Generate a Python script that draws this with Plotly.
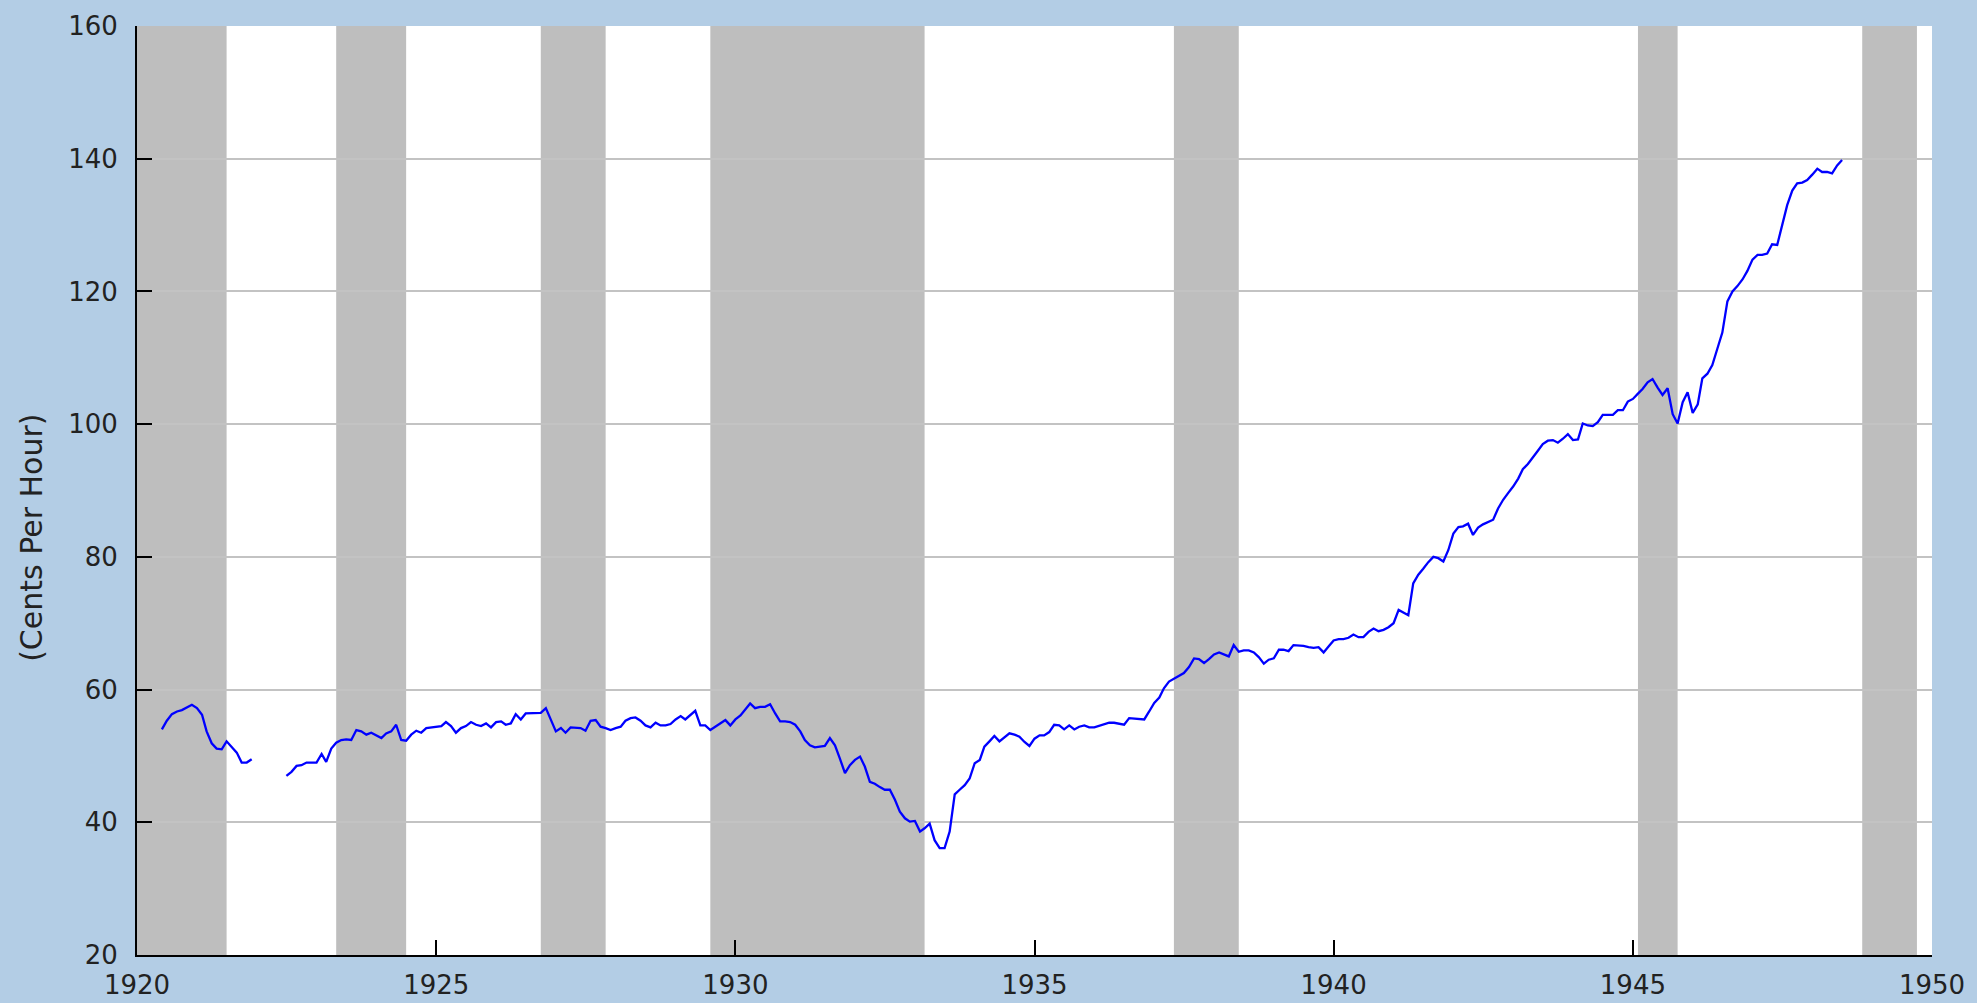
import pandas as pd
import plotly.graph_objects as go

# Average hourly earnings, production workers, manufacturing (cents per hour), monthly
start_1 = "1920-06-01"
wages_1920_1921 = [54.0, 55.3, 56.3, 56.7, 56.9, 57.3, 57.7, 57.2, 56.2, 53.7,
                   51.9, 51.1, 51.0, 52.2, 51.3, 50.5, 49.0, 49.0, 49.5]

start_2 = "1922-07-01"
wages_1922_1948 = [
    47.0, 47.6, 48.5, 48.6, 49.0, 49.0, 49.0, 50.3, 49.1, 51.1, 52.0, 52.4,
    52.5, 52.4, 53.9, 53.7, 53.2, 53.5, 53.1, 52.7, 53.4, 53.7, 54.7, 52.4,
    52.3, 53.2, 53.8, 53.5, 54.2, 54.3, 54.3, 54.5, 55.1, 54.5, 53.5, 54.2,
    54.5, 55.1, 54.7, 54.5, 54.9, 54.3, 55.1, 55.2, 54.7, 54.9, 56.3, 55.5,
    56.4, 56.4, 56.4, 56.5, 57.2, 55.5, 53.7, 54.2, 53.5, 54.3, 54.3, 54.2,
    53.8, 55.3, 55.4, 54.4, 54.2, 53.9, 54.2, 54.4, 55.3, 55.7, 55.8, 55.3,
    54.6, 54.3, 55.0, 54.6, 54.6, 54.8, 55.5, 56.0, 55.5, 56.1, 56.8, 54.6,
    54.6, 53.9, 54.4, 54.8, 55.4, 54.6, 55.5, 56.1, 57.0, 57.9, 57.2, 57.4,
    57.4, 57.8, 56.4, 55.2, 55.2, 55.1, 54.7, 53.7, 52.4, 51.6, 51.3, 51.4,
    51.5, 52.7, 51.6, 49.6, 47.4, 48.6, 49.4, 49.9, 48.4, 46.1, 45.8, 45.3,
    44.9, 44.9, 43.4, 41.6, 40.6, 40.1, 40.2, 38.6, 39.1, 39.8, 37.3, 36.1,
    36.1, 38.6, 44.2, 44.9, 45.6, 46.6, 48.9, 49.4, 51.4, 52.2, 53.0, 52.2,
    52.8, 53.4, 53.2, 52.9, 52.1, 51.5, 52.6, 53.1, 53.1, 53.6, 54.7, 54.6,
    54.0, 54.6, 54.0, 54.4, 54.6, 54.3, 54.3, 54.5, 54.8, 55.0, 55.0, 54.9,
    54.7, 55.7, 55.6, 55.5, 55.5, 56.7, 58.0, 58.8, 60.2, 61.2, 61.6, 62.0,
    62.5, 63.4, 64.7, 64.6, 64.0, 64.6, 65.3, 65.6, 65.3, 65.0, 66.7, 65.7,
    65.9, 65.9, 65.6, 64.9, 63.9, 64.5, 64.7, 66.0, 66.0, 65.8, 66.7, 66.7,
    66.6, 66.4, 66.3, 66.4, 65.6, 66.5, 67.4, 67.6, 67.6, 67.8, 68.3, 67.9,
    67.9, 68.7, 69.2, 68.8, 69.0, 69.4, 70.0, 72.0, 71.6, 71.2, 76.0, 77.3,
    78.2, 79.2, 80.0, 79.8, 79.3, 81.0, 83.5, 84.5, 84.6, 85.0, 83.3, 84.4,
    84.9, 85.2, 85.6, 87.3, 88.6, 89.6, 90.6, 91.8, 93.2, 94.0, 94.9, 96.0,
    97.0, 97.5, 97.6, 97.2, 97.8, 98.5, 97.6, 97.7, 100.1, 99.8, 99.7, 100.3,
    101.4, 101.4, 101.4, 102.1, 102.1, 103.4, 103.8, 104.6, 105.3, 106.3, 106.8, 105.5,
    104.4, 105.4, 101.5, 100.1, 103.3, 104.8, 101.7, 103.0, 106.9, 107.6, 108.9, 111.4,
    113.8, 118.5, 120.0, 120.8, 121.8, 123.1, 124.8, 125.5, 125.5, 125.7, 127.1, 127.0,
    130.0, 133.0, 135.2, 136.3, 136.4, 136.8, 137.6, 138.5, 138.0, 138.0, 137.8, 139.0,
    139.8,
]

# NBER recessions (peak, trough)
recession_starts = ["1920-01-01", "1923-05-01", "1926-10-01", "1929-08-01",
                    "1937-05-01", "1945-02-01", "1948-11-01"]
recession_ends = ["1921-07-01", "1924-07-01", "1927-11-01", "1933-03-01",
                  "1938-06-01", "1945-10-01", "1949-10-01"]

y_ticks = [20, 40, 60, 80, 100, 120, 140, 160]
x_tick_years = [1920, 1925, 1930, 1935, 1940, 1945, 1950]

dates_1 = pd.date_range(start_1, periods=len(wages_1920_1921), freq="MS")
dates_2 = pd.date_range(start_2, periods=len(wages_1922_1948), freq="MS")
gap = pd.date_range(dates_1[-1] + pd.DateOffset(months=1), dates_2[0] - pd.DateOffset(months=1), freq="MS")
x_all = list(dates_1) + list(gap) + list(dates_2)
y_all = wages_1920_1921 + [None] * len(gap) + wages_1922_1948

BG = "#b3cde5"
FONT = "DejaVu Sans, Verdana, sans-serif"

fig = go.Figure()
fig.add_trace(go.Scatter(x=x_all, y=y_all, mode="lines",
                         line=dict(color="#0000ff", width=2.3),
                         connectgaps=False, showlegend=False))

for s, e in zip(recession_starts, recession_ends):
    fig.add_shape(type="rect", xref="x", yref="paper", x0=s, x1=e, y0=0, y1=1,
                  fillcolor="#bebebe", line=dict(width=0), layer="between")

fig.update_layout(
    width=1977, height=1003,
    paper_bgcolor=BG, plot_bgcolor="#ffffff",
    margin=dict(l=137, r=45, t=26, b=48, pad=0, autoexpand=False),
    font=dict(family=FONT, size=26, color="#222222"),
    xaxis=dict(
        type="date",
        range=["1920-01-01", "1950-01-01"],
        tickvals=[f"{y}-01-01" for y in x_tick_years],
        ticktext=[str(y) for y in x_tick_years],
        ticks="inside", ticklen=15, tickwidth=2, tickcolor="#000000",
        showline=True, linecolor="#000000", linewidth=2,
        showgrid=False, zeroline=False, automargin=False,
        ticklabelstandoff=6,
        tickfont=dict(family=FONT, size=26, color="#222222"),
    ),
    yaxis=dict(
        range=[20, 160],
        tickvals=y_ticks,
        ticks="inside", ticklen=15, tickwidth=2, tickcolor="#000000",
        showline=True, linecolor="#000000", linewidth=2,
        showgrid=True, gridcolor="#c3c3c3", gridwidth=2,
        zeroline=False, automargin=False,
        ticklabelstandoff=12,
        tickfont=dict(family=FONT, size=26, color="#222222"),
    ),
    annotations=[dict(
        text="(Cents Per Hour)", textangle=-90,
        xref="paper", yref="paper", x=-0.0585, y=0.449,
        xanchor="center", yanchor="middle", showarrow=False,
        font=dict(family=FONT, size=30, color="#222222"),
    )],
)

fig.write_html(
    "out.html",
    config={"displayModeBar": False},
    post_script="document.body.style.margin='0';document.body.style.overflow='hidden';",
)
